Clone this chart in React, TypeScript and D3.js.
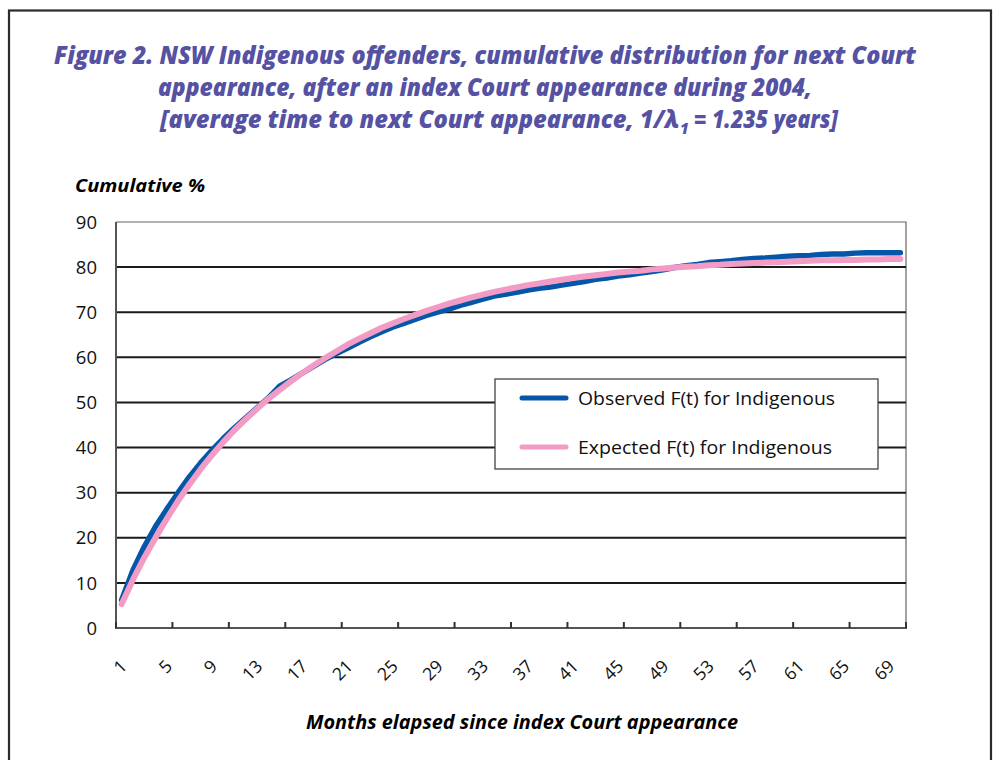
import { useEffect, useRef } from "react";
import * as d3 from "d3";

// months 1..70
const months = d3.range(1, 71);
const observed = [
  6.2, 12.8, 18.0, 22.5, 26.3, 30.0, 33.5, 36.6, 39.4, 42.0,
  44.4, 46.6, 48.8, 51.0, 53.6, 55.0, 56.5, 58.0, 59.5, 60.8,
  62.0, 63.3, 64.5, 65.6, 66.7, 67.5, 68.4, 69.3, 70.0, 70.7,
  71.5, 72.2, 72.9, 73.6, 74.0, 74.4, 74.9, 75.3, 75.6, 76.0,
  76.4, 76.8, 77.3, 77.6, 78.0, 78.3, 78.7, 79.0, 79.4, 79.9,
  80.3, 80.6, 81.0, 81.2, 81.4, 81.7, 81.9, 82.0, 82.2, 82.4,
  82.5, 82.6, 82.8, 82.9, 82.9, 83.1, 83.2, 83.2, 83.2, 83.2,
];
const expected = [
  5.3, 10.7, 15.6, 20.0, 24.2, 28.2, 31.8, 35.2, 38.3, 41.2,
  43.9, 46.3, 48.6, 50.8, 52.8, 54.7, 56.5, 58.2, 59.8, 61.3,
  62.8, 64.1, 65.3, 66.5, 67.5, 68.5, 69.4, 70.3, 71.1, 71.9,
  72.6, 73.3, 73.9, 74.5, 75.0, 75.5, 76.0, 76.4, 76.8, 77.2,
  77.6, 77.9, 78.2, 78.5, 78.8, 79.0, 79.2, 79.5, 79.7, 79.9,
  80.1, 80.2, 80.4, 80.5, 80.7, 80.8, 80.9, 81.0, 81.1, 81.2,
  81.3, 81.4, 81.5, 81.5, 81.6, 81.6, 81.7, 81.7, 81.8, 81.8,
];
const yTicks = [0, 10, 20, 30, 40, 50, 60, 70, 80, 90];
const xLabels = d3.range(1, 71, 4);
const seriesNames = ["Observed F(t) for Indigenous", "Expected F(t) for Indigenous"];
const titleLines = [
  "Figure 2. NSW Indigenous offenders, cumulative distribution for next Court",
  "appearance, after an index Court appearance during 2004,",
];

const W = 994;
const H = 760;
const plot = { left: 116, right: 906, top: 222, bottom: 628 };

export default function App() {
  const ref = useRef<SVGSVGElement>(null);

  useEffect(() => {
    draw();
  });

  function draw() {
    const svg = d3.select(ref.current);
    svg.selectAll("*").remove();

    const fontMain = "'Open Sans', 'Noto Sans', sans-serif";
    const titleColor = "#5552a3";
    const blue = "#0356a8";
    const pink = "#f29bc5";

    svg.append("rect").attr("width", W).attr("height", H).attr("fill", "#fff");

    // outer frame
    svg
      .append("rect")
      .attr("x", 9)
      .attr("y", 10.5)
      .attr("width", 982)
      .attr("height", 780)
      .attr("fill", "none")
      .attr("stroke", "#2a2a2a")
      .attr("stroke-width", 2.2);

    // title
    const title = svg
      .append("text")
      .attr("text-anchor", "middle")
      .attr("font-family", fontMain)
      .attr("font-weight", 800)
      .attr("font-style", "italic")
      .attr("font-size", 25)
      .attr("fill", titleColor);
    titleLines.forEach((t, i) => {
      title
        .append("tspan")
        .attr("x", 485)
        .attr("y", 64 + i * 32)
        .attr("textLength", i === 0 ? 862 : 654)
        .attr("lengthAdjust", "spacingAndGlyphs")
        .text(t);
    });
    // third line: main text, then subscript as its own element
    const titleStyle = (s: d3.Selection<SVGTextElement, unknown, null, undefined>) =>
      s
        .attr("font-family", fontMain)
        .attr("font-weight", 800)
        .attr("font-style", "italic")
        .attr("fill", titleColor);
    svg
      .append("text")
      .call(titleStyle)
      .attr("x", 160)
      .attr("y", 128)
      .attr("font-size", 25)
      .attr("textLength", 519)
      .attr("lengthAdjust", "spacingAndGlyphs")
      .text("[average time to next Court appearance, 1/λ");
    svg
      .append("text")
      .call(titleStyle)
      .attr("x", 680)
      .attr("y", 134)
      .attr("font-size", 15)
      .text("1");
    svg
      .append("text")
      .call(titleStyle)
      .attr("x", 694)
      .attr("y", 128)
      .attr("font-size", 25)
      .attr("textLength", 144)
      .attr("lengthAdjust", "spacingAndGlyphs")
      .text("= 1.235 years]");

    // y title
    svg
      .append("text")
      .attr("x", 75)
      .attr("y", 192)
      .attr("font-family", fontMain)
      .attr("font-weight", 700)
      .attr("font-style", "italic")
      .attr("font-size", 18.5)
      .attr("fill", "#000")
      .attr("textLength", 130)
      .attr("lengthAdjust", "spacingAndGlyphs")
      .text("Cumulative %");

    const x = d3
      .scaleBand<number>()
      .domain(months)
      .range([plot.left, plot.right])
      .padding(0);
    const cx = (m: number) => (x(m) as number) + x.bandwidth() / 2;
    const y = d3.scaleLinear().domain([0, 90]).range([plot.bottom, plot.top]);

    // plot area border (top / right)
    svg
      .append("path")
      .attr("d", `M${plot.left},${plot.top}H${plot.right}V${plot.bottom}`)
      .attr("fill", "none")
      .attr("stroke", "#666")
      .attr("stroke-width", 1.2);

    // gridlines
    svg
      .append("g")
      .selectAll("line")
      .data(yTicks.filter((t) => t > 0 && t < 90))
      .join("line")
      .attr("x1", plot.left)
      .attr("x2", plot.right)
      .attr("y1", (d) => y(d))
      .attr("y2", (d) => y(d))
      .attr("stroke", "#1a1a1a")
      .attr("stroke-width", 2);

    // y labels
    svg
      .append("g")
      .selectAll("text")
      .data(yTicks)
      .join("text")
      .attr("x", 97)
      .attr("y", (d) => y(d))
      .attr("dy", "0.36em")
      .attr("text-anchor", "end")
      .attr("font-family", fontMain)
      .attr("font-size", 18.5)
      .attr("fill", "#111")
      .text((d) => d);

    // axes
    svg
      .append("line")
      .attr("x1", plot.left)
      .attr("x2", plot.left)
      .attr("y1", plot.top)
      .attr("y2", plot.bottom + 1)
      .attr("stroke", "#555")
      .attr("stroke-width", 2);
    svg
      .append("line")
      .attr("x1", plot.left)
      .attr("x2", plot.right + 1)
      .attr("y1", plot.bottom)
      .attr("y2", plot.bottom)
      .attr("stroke", "#555")
      .attr("stroke-width", 2);

    // x tick marks every 5 categories
    const tickPos = d3.range(0, 71, 5).map((k) =>
      k < 70 ? (x(k + 1) as number) : plot.right
    );
    svg
      .append("g")
      .selectAll("line")
      .data(tickPos)
      .join("line")
      .attr("x1", (d) => d)
      .attr("x2", (d) => d)
      .attr("y1", plot.bottom)
      .attr("y2", plot.bottom - 6)
      .attr("stroke", "#333")
      .attr("stroke-width", 2);

    // x labels
    svg
      .append("g")
      .selectAll("text")
      .data(xLabels)
      .join("text")
      .attr("transform", (d) => `translate(${cx(d) + 2},${663}) rotate(-45)`)
      .attr("dy", "0.36em")
      .attr("text-anchor", "end")
      .attr("font-family", fontMain)
      .attr("font-size", 17.5)
      .attr("fill", "#111")
      .text((d) => d);

    // x title
    svg
      .append("text")
      .attr("x", 522)
      .attr("y", 729)
      .attr("text-anchor", "middle")
      .attr("font-family", fontMain)
      .attr("font-weight", 700)
      .attr("font-style", "italic")
      .attr("font-size", 19)
      .attr("fill", "#000")
      .attr("textLength", 432)
      .attr("lengthAdjust", "spacingAndGlyphs")
      .text("Months elapsed since index Court appearance");

    // lines
    const line = d3
      .line<number>()
      .x((_, i) => cx(months[i]))
      .y((d) => y(d));
    svg
      .append("path")
      .datum(observed)
      .attr("d", line)
      .attr("fill", "none")
      .attr("stroke", blue)
      .attr("stroke-width", 5.5)
      .attr("stroke-linejoin", "round")
      .attr("stroke-linecap", "round");
    svg
      .append("path")
      .datum(expected)
      .attr("d", line)
      .attr("fill", "none")
      .attr("stroke", pink)
      .attr("stroke-width", 6)
      .attr("stroke-linejoin", "round")
      .attr("stroke-linecap", "round");

    // legend
    const lg = svg.append("g");
    lg.append("rect")
      .attr("x", 495)
      .attr("y", 379)
      .attr("width", 383)
      .attr("height", 90)
      .attr("fill", "#fff")
      .attr("stroke", "#444")
      .attr("stroke-width", 1.3);
    [blue, pink].forEach((c, i) => {
      const ly = 398 + i * 49;
      lg.append("line")
        .attr("x1", 522)
        .attr("x2", 566)
        .attr("y1", ly)
        .attr("y2", ly)
        .attr("stroke", c)
        .attr("stroke-width", 5)
        .attr("stroke-linecap", "round");
      lg.append("text")
        .attr("x", 578)
        .attr("y", ly)
        .attr("dy", "0.36em")
        .attr("font-family", fontMain)
        .attr("font-size", 19)
        .attr("fill", "#111")
        .attr("textLength", i === 0 ? 257 : 254)
        .attr("lengthAdjust", "spacingAndGlyphs")
        .text(seriesNames[i]);
    });
  }

  return (
    <svg
      ref={ref}
      width={W}
      height={H}
      style={{ position: "absolute", left: 0, top: 0, display: "block" }}
    ></svg>
  );
}
